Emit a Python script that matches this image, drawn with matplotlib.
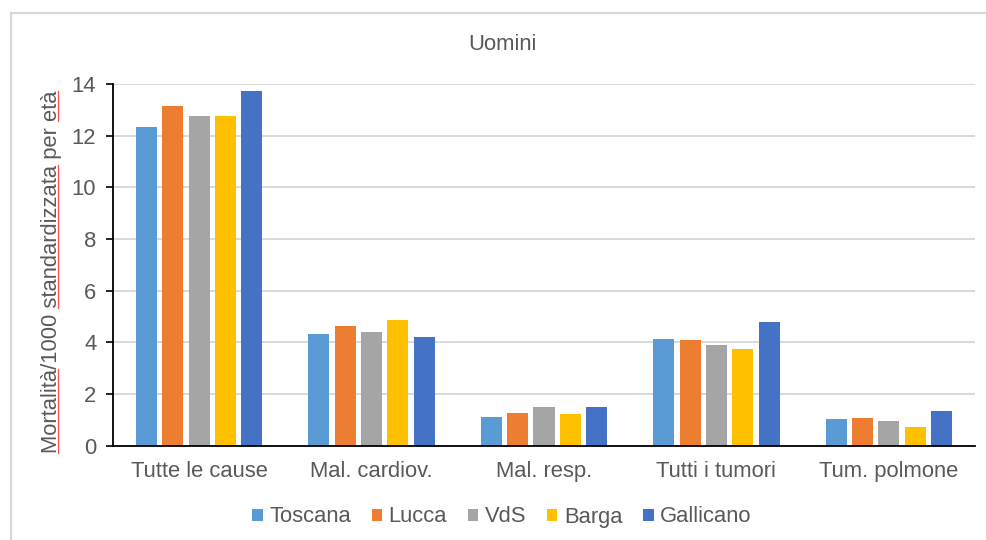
import numpy as np
import matplotlib
matplotlib.use("Agg")
import matplotlib.pyplot as plt
from matplotlib.patches import Patch
from matplotlib.lines import Line2D
from matplotlib.transforms import IdentityTransform

# data
causes = ["Tutte le cause", "Mal. cardiov.", "Mal. resp.", "Tutti i tumori", "Tum. polmone"]
areas = ["Toscana", "Lucca", "VdS", "Barga", "Gallicano"]
toscana = [12.34, 4.33, 1.09, 4.11, 1.03]
lucca = [13.14, 4.61, 1.25, 4.07, 1.07]
vds = [12.75, 4.41, 1.48, 3.89, 0.96]
barga = [12.78, 4.86, 1.21, 3.72, 0.72]
gallicano = [13.73, 4.21, 1.50, 4.77, 1.32]
colors = ["#5B9BD5", "#ED7D31", "#A5A5A5", "#FFC000", "#4472C4"]

TXT = "#595959"
FONT = "Liberation Sans"
FS = 15.8
plt.rcParams["font.family"] = [FONT, "DejaVu Sans"]

fig = plt.figure(figsize=(9.86, 5.4), dpi=100)
ax = fig.add_axes([113 / 986, 1 - 445.5 / 540, 862 / 986, 361.5 / 540])

series = [toscana, lucca, vds, barga, gallicano]
x = np.arange(len(causes))
pitch = 0.153
width = 0.122
for j, vals in enumerate(series):
    ax.bar(x + (j - 2) * pitch, vals, width, color=colors[j], zorder=3)

ax.set_xlim(-0.5, len(causes) - 0.5)
ax.set_ylim(0, 14)
ax.set_yticks(range(0, 15, 2))
ax.yaxis.grid(True, color="#D9D9D9", lw=1.4, zorder=0)
ax.set_xticks(x)
ax.set_xticklabels(causes, fontsize=FS, color=TXT)
ax.tick_params(axis="x", length=0, pad=11)
ax.tick_params(axis="y", length=5, width=1.2, color="black", labelsize=FS,
               labelcolor=TXT, pad=7)
for s in ["top", "right"]:
    ax.spines[s].set_visible(False)
ax.spines["left"].set_color("black")
ax.spines["left"].set_linewidth(1.3)
ax.spines["bottom"].set_color("black")
ax.spines["bottom"].set_linewidth(1.3)
ax.spines["bottom"].set_zorder(4)

fig.text(502 / 986, 1 - 44 / 540, "Uomini", ha="center", va="center",
         fontsize=FS, color=TXT)

label = "Mortalità/1000 standardizzata per età"
ylab = fig.text(52 / 986, 1 - 272 / 540, label, rotation=90, ha="center",
                va="center", fontsize=FS, color=TXT)

handles = [Patch(facecolor=c, edgecolor="none") for c in colors]
fig.legend(handles, areas, loc="center", bbox_to_anchor=(502 / 986, 1 - 517 / 540),
           ncol=5, frameon=False, fontsize=FS, labelcolor=TXT,
           handlelength=0.47, handleheight=0.47, handletextpad=0.3,
           columnspacing=0.95)

# outer chart frame (only top and left visible)
fig.add_artist(Line2D([11 / 986, 11 / 986], [0, 1 - 13 / 540], color="#D9D9D9", lw=1.6))
fig.add_artist(Line2D([11 / 986, 1], [1 - 13 / 540, 1 - 13 / 540], color="#D9D9D9", lw=1.6))

# red spell-check underlines under some words of the y label
fig.canvas.draw()
renderer = fig.canvas.get_renderer()
bb = ylab.get_window_extent(renderer)


def prefix_len(s):
    if not s:
        return 0.0
    t = fig.text(0, 0, s, fontsize=FS)
    w = t.get_window_extent(renderer).width
    t.remove()
    return w


for word in ["Mortalità", "standardizzata", "età"]:
    i = label.rfind(word) if word == "età" else label.find(word)
    a = prefix_len(label[:i])
    b = prefix_len(label[:i + len(word)])
    xr = bb.x1 - 4.5
    fig.add_artist(Line2D([xr, xr], [bb.y0 + a, bb.y0 + b], color="#FF5050",
                          lw=0.9, transform=IdentityTransform()))

fig.savefig("out.png", dpi=100)
